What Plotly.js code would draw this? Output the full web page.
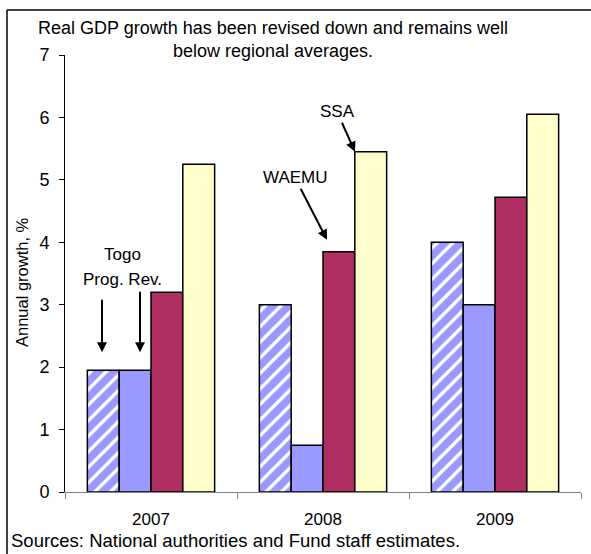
<!DOCTYPE html>
<html>
<head>
<meta charset="utf-8">
<script src="https://cdn.plot.ly/plotly-3.0.1.min.js"></script>
<style>html,body{margin:0;padding:0;background:#fff;}#chart{width:591px;height:554px;}</style>
</head>
<body>
<div id="chart"></div>
<script>
const years = ["2007", "2008", "2009"];
const togo = [1.95, 3.0, 4.0];
const progRev = [1.95, 0.75, 3.0];
const waemu = [3.2, 3.85, 4.72];
const ssa = [5.25, 5.45, 6.05];
const yTicks = [0, 1, 2, 3, 4, 5, 6, 7];

const font = "Liberation Sans, Arial, sans-serif";
const outline = {color: "#000", width: 1.5};

const traces = [
  {type: "bar", name: "Togo", x: years, y: togo,
   marker: {color: "#9999ff", line: outline,
            pattern: {shape: "/", bgcolor: "#9999ff", fgcolor: "#ffffff", fgopacity: 1,
                      size: 11, solidity: 0.3}}},
  {type: "bar", name: "Prog. Rev.", x: years, y: progRev,
   marker: {color: "#9999ff", line: outline}},
  {type: "bar", name: "WAEMU", x: years, y: waemu,
   marker: {color: "#AE2E62", line: outline}},
  {type: "bar", name: "SSA", x: years, y: ssa,
   marker: {color: "#FFFFCC", line: outline}}
];

const layout = {
  width: 591, height: 554,
  margin: {l: 65, r: 10, t: 55, b: 62},
  paper_bgcolor: "#fff", plot_bgcolor: "#fff",
  showlegend: false,
  barmode: "group", bargap: 0.26, bargroupgap: 0,
  font: {family: font, color: "#000", size: 18},
  xaxis: {type: "category", showline: true, linecolor: "#808080", linewidth: 1,
          ticks: "outside", tickson: "boundaries", ticklen: 6, tickcolor: "#808080",
          ticklabelstandoff: 12,
          showgrid: false, zeroline: false, tickfont: {size: 17, family: font}},
  yaxis: {range: [0, 7], tickvals: yTicks, ticktext: yTicks.map(String),
          showline: true, linecolor: "#000", linewidth: 1,
          ticks: "outside", ticklen: 5, tickcolor: "#000", ticklabelstandoff: 6,
          showgrid: false, zeroline: false, tickfont: {size: 18, family: font}},
  annotations: [
    {x: 0.403, y: 1.09, xref: "paper", yref: "paper", xanchor: "center", yanchor: "top",
     text: "Real GDP growth has been revised down and remains well<br>below regional averages.",
     showarrow: false, font: {size: 18, family: font}},
    {x: -0.0833, y: 0.4805, xref: "paper", yref: "paper", xanchor: "center", yanchor: "middle",
     text: "Annual growth, %", textangle: -90, showarrow: false, font: {size: 16.5, family: font}},
    {x: 0, y: 3.8, xref: "x", yref: "y", text: "Togo", showarrow: false,
     xshift: -29, font: {size: 17, family: font}},
    {x: 0, y: 3.4, xref: "x", yref: "y", text: "Prog. Rev.", showarrow: false,
     xshift: -29, font: {size: 17, family: font}},
    {x: 0, y: 2.24, xref: "x", yref: "y", xshift: -49, text: "", showarrow: true,
     arrowhead: 2, arrowsize: 1, arrowwidth: 2, arrowcolor: "#000", ax: 0, ay: -54},
    {x: 0, y: 2.24, xref: "x", yref: "y", xshift: -11, text: "", showarrow: true,
     arrowhead: 2, arrowsize: 1, arrowwidth: 2, arrowcolor: "#000", ax: 0, ay: -62},
    {x: 1, y: 5.45, xref: "x", yref: "y", xshift: 32, text: "SSA", showarrow: true,
     arrowhead: 2, arrowsize: 1, arrowwidth: 2, arrowcolor: "#000", ax: -18, ay: -40,
     font: {size: 17, family: font}},
    {x: 1, y: 4.04, xref: "x", yref: "y", xshift: 4, text: "WAEMU", showarrow: true,
     arrowhead: 2, arrowsize: 1, arrowwidth: 2, arrowcolor: "#000", ax: -32, ay: -62,
     font: {size: 17, family: font}},
    {x: 0, y: 0, xref: "paper", yref: "paper", xanchor: "left", yanchor: "bottom",
     text: "Sources: National authorities and Fund staff estimates.", showarrow: false,
     xshift: -56, yshift: -61, font: {size: 18.5, family: font}}
  ],
  shapes: [
    {type: "line", xref: "paper", yref: "paper", x0: -0.1124, x1: 1.03, y0: 1.103, y1: 1.103,
     line: {color: "#000", width: 1.5}},
    {type: "line", xref: "paper", yref: "paper", x0: -0.1124, x1: -0.1124, y0: 1.103, y1: -0.15,
     line: {color: "#000", width: 1.5}}
  ]
};

Plotly.newPlot("chart", traces, layout, {displayModeBar: false, staticPlot: true});
</script>
</body>
</html>
